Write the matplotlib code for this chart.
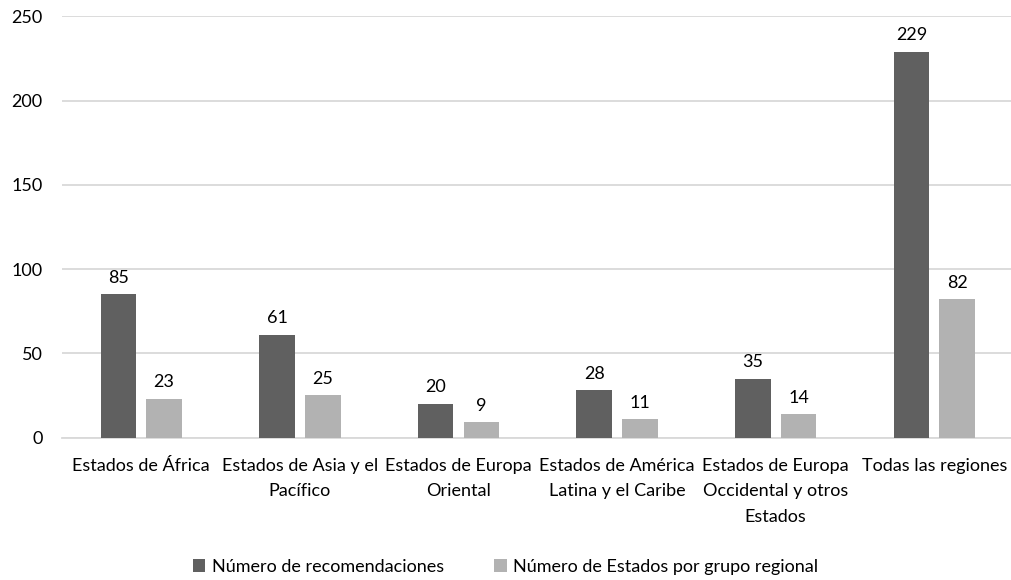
import matplotlib
matplotlib.use("Agg")
import matplotlib.pyplot as plt
import numpy as np

# Data
categories = [
    "Estados de África",
    "Estados de Asia y el\nPacífico",
    "Estados de Europa\nOriental",
    "Estados de América\nLatina y el Caribe",
    "Estados de Europa\nOccidental y otros\nEstados",
    "Todas las regiones",
]
recomendaciones = [85, 61, 20, 28, 35, 229]
estados = [23, 25, 9, 11, 14, 82]
series_labels = ["Número de recomendaciones", "Número de Estados por grupo regional"]
yticks = [0, 50, 100, 150, 200, 250]

# Style
DARK = "#606060"
LIGHT = "#b2b2b2"
GRID = "#d9d9d9"
FONT = "Lato"
FS = 13

plt.rcParams["font.family"] = [FONT, "DejaVu Sans"]

fig = plt.figure(figsize=(10.11, 5.8), dpi=100)
ax = fig.add_axes([62 / 1011, 1 - 437.5 / 580, 951.6 / 1011, 421.2 / 580])

x = np.arange(len(categories))
width = 0.224
offset = 0.144

bars1 = ax.bar(x - offset, recomendaciones, width, color=DARK, label=series_labels[0], zorder=3)
bars2 = ax.bar(x + offset, estados, width, color=LIGHT, label=series_labels[1], zorder=3)

for bars in (bars1, bars2):
    for b in bars:
        ax.annotate(f"{int(b.get_height())}",
                    (b.get_x() + b.get_width() / 2, b.get_height()),
                    xytext=(0, 6), textcoords="offset points",
                    ha="center", va="bottom", fontsize=FS, color="#000000")

ax.set_xlim(-0.5, len(categories) - 0.5)
ax.set_ylim(0, 250)
ax.set_yticks(yticks)
ax.set_xticks(x)
ax.set_xticklabels(categories, fontsize=FS, linespacing=1.7)
ax.tick_params(axis="both", length=0, labelsize=FS)
ax.tick_params(axis="x", pad=15)
ax.tick_params(axis="y", pad=14)

ax.grid(axis="y", color=GRID, linewidth=1.3, zorder=0)
for side in ("top", "right", "left"):
    ax.spines[side].set_visible(False)
ax.spines["bottom"].set_color(GRID)
ax.spines["bottom"].set_linewidth(1.3)

fig.legend(loc="center", bbox_to_anchor=(0.5, 1 - 567 / 580), ncol=2,
           frameon=False, fontsize=FS, handlelength=0.7, handleheight=0.7,
           handletextpad=0.35, columnspacing=2.8)

fig.savefig("out.png", dpi=100, facecolor="white")
